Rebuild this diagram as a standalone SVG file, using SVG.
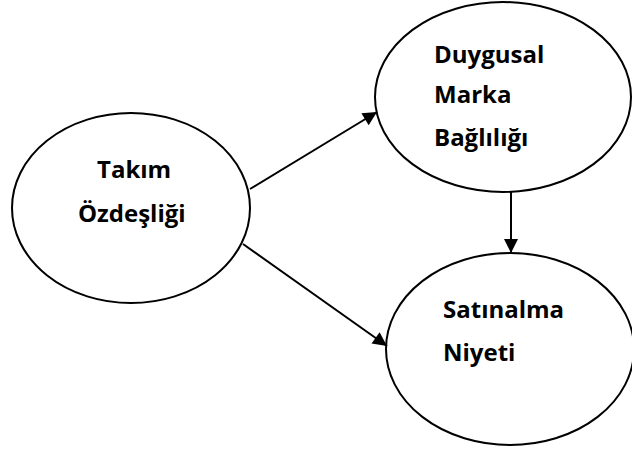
<svg xmlns="http://www.w3.org/2000/svg" width="632" height="452" viewBox="0 0 632 452">
<style>
.node ellipse{fill:#fff;stroke:#000;stroke-width:2}
.node text{font-family:"Open Sans","Liberation Sans",sans-serif;font-weight:bold;font-size:24px;fill:#000}
.conn line{stroke:#000;stroke-width:2;marker-end:url(#ah)}
</style>
<defs>
<marker id="ah" viewBox="0 0 10 10" refX="10" refY="5" markerWidth="8.5" markerHeight="7" markerUnits="strokeWidth" orient="auto">
<path d="M0,0 L10,5 L0,10 z" fill="#000"/>
</marker>
</defs>
<rect width="632" height="452" fill="#fff"/>
<g id="takim" class="node">
<ellipse cx="131" cy="208" rx="119" ry="95"/>
<text x="97" y="178">Takım</text>
<text x="78" y="222">Özdeşliği</text>
</g>
<g id="duygusal" class="node">
<ellipse cx="503" cy="97" rx="128" ry="95"/>
<text x="434" y="63">Duygusal</text>
<text x="434" y="103">Marka</text>
<text x="434" y="146">Bağlılığı</text>
</g>
<g id="satinalma" class="node">
<ellipse cx="510" cy="349" rx="124" ry="96"/>
<text x="443" y="318">Satınalma</text>
<text x="443" y="361">Niyeti</text>
</g>
<g id="connectors" class="conn">
<line x1="250" y1="189" x2="377" y2="112"/>
<line x1="243" y1="244" x2="387" y2="346"/>
<line x1="511" y1="192" x2="511" y2="253"/>
</g>
</svg>
